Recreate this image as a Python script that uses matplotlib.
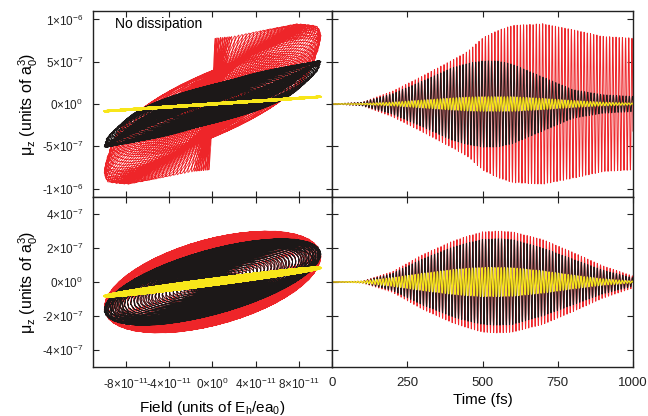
import numpy as np
import matplotlib.pyplot as plt

plt.rcParams['font.family'] = ['Liberation Sans', 'DejaVu Sans']
plt.rcParams['mathtext.fontset'] = 'custom'
plt.rcParams['mathtext.rm'] = 'Liberation Sans'
plt.rcParams['mathtext.it'] = 'Liberation Sans:italic'
plt.rcParams['mathtext.default'] = 'rm'

# envelope control points (time in fs)
t_ctrl = [0, 100, 200, 300, 400, 450, 500, 550, 600, 700, 800, 900, 1000]
field_env = [0, 0.06, 0.25, 0.55, 0.82, 0.92, 0.98, 1.0, 0.98, 0.80, 0.50, 0.18, 0.02]   # x 1e-10

# no dissipation (top row), amplitudes in 1e-6, phase lag in degrees
red_amp_nd = [0, 0.02, 0.15, 0.33, 0.52, 0.62, 0.78, 0.87, 0.93, 0.95, 0.88, 0.80, 0.78]
red_phase_nd = [10, 15, 25, 35, 45, 40, 28, 22, 18, 12, 10, 8, 8]
black_amp_nd = [0, 0.02, 0.12, 0.27, 0.43, 0.48, 0.51, 0.51, 0.47, 0.32, 0.17, 0.11, 0.09]
black_phase_nd = [30, 30, 30, 30, 30, 18, 5, 10, 25, 45, 55, 60, 65]
yellow_amp_nd = [0, 0.005, 0.02, 0.045, 0.07, 0.08, 0.085, 0.085, 0.085, 0.065, 0.04, 0.02, 0.01]
yellow_phase_nd = [3] * 13

# with dissipation (bottom row), amplitudes in 1e-7
red_amp_d = [0, 0.05, 0.6, 1.6, 2.4, 2.7, 2.95, 3.0, 2.95, 2.5, 1.75, 0.95, 0.35]
red_phase_d = [60] * 13
black_amp_d = [0, 0.04, 0.5, 1.35, 2.05, 2.3, 2.5, 2.55, 2.5, 2.0, 1.35, 0.7, 0.25]
black_phase_d = [50] * 13
yellow_amp_d = [0, 0.05, 0.25, 0.5, 0.72, 0.8, 0.85, 0.85, 0.83, 0.65, 0.4, 0.18, 0.05]
yellow_phase_d = [12] * 13

period_fs = 10.6

top_yticks = [-1e-6, -5e-7, 0, 5e-7, 1e-6]
top_ylabels = ['-1×10$^{-6}$', '-5×10$^{-7}$', '0×10$^{0}$', '5×10$^{-7}$', '1×10$^{-6}$']
bot_yticks = [-4e-7, -2e-7, 0, 2e-7, 4e-7]
bot_ylabels = ['-4×10$^{-7}$', '-2×10$^{-7}$', '0×10$^{0}$', '2×10$^{-7}$', '4×10$^{-7}$']
field_ticks = [-8e-11, -4e-11, 0, 4e-11, 8e-11]
field_labels = ['-8×10$^{-11}$', '-4×10$^{-11}$', '0×10$^{0}$', '4×10$^{-11}$', '8×10$^{-11}$']
time_ticks = [0, 250, 500, 750, 1000]

RED = '#ee2529'
BLACK = '#1c1818'
YELLOW = '#f8e61a'

t = np.arange(0, 1000.01, 0.4)
w = 2 * np.pi / period_fs
field = np.interp(t, t_ctrl, field_env) * 1e-10 * np.cos(w * t)


def dipole(amp, phase, scale):
    a = np.interp(t, t_ctrl, amp) * scale
    p = np.deg2rad(np.interp(t, t_ctrl, phase))
    return a * np.cos(w * t - p)


rows = [
    [(dipole(red_amp_nd, red_phase_nd, 1e-6), RED),
     (dipole(black_amp_nd, black_phase_nd, 1e-6), BLACK),
     (dipole(yellow_amp_nd, yellow_phase_nd, 1e-6), YELLOW)],
    [(dipole(red_amp_d, red_phase_d, 1e-7), RED),
     (dipole(black_amp_d, black_phase_d, 1e-7), BLACK),
     (dipole(yellow_amp_d, yellow_phase_d, 1e-7), YELLOW)],
]

fig = plt.figure(figsize=(6.48, 4.16), dpi=100)
W, H = 648.0, 416.0
ax_tl = fig.add_axes([93 / W, 1 - 197 / H, 239 / W, 186 / H])
ax_tr = fig.add_axes([332 / W, 1 - 197 / H, 301 / W, 186 / H])
ax_bl = fig.add_axes([93 / W, 1 - 367 / H, 239 / W, 170 / H])
ax_br = fig.add_axes([332 / W, 1 - 367 / H, 301 / W, 170 / H])

for (axl, axr), series in zip([(ax_tl, ax_tr), (ax_bl, ax_br)], rows):
    for mu, col in series:
        axl.plot(field, mu, color=col, lw=1.5 if col == YELLOW else 0.6)
        axr.plot(t, mu, color=col, lw=0.9 if col == YELLOW else 0.7)

for ax in (ax_tl, ax_tr):
    ax.set_ylim(-1.1e-6, 1.1e-6)
    ax.set_yticks(top_yticks)
for ax in (ax_bl, ax_br):
    ax.set_ylim(-5e-7, 5e-7)
    ax.set_yticks(bot_yticks)
for ax in (ax_tl, ax_bl):
    ax.set_xlim(-1.1e-10, 1.1e-10)
    ax.set_xticks(field_ticks)
for ax in (ax_tr, ax_br):
    ax.set_xlim(0, 1000)
    ax.set_xticks(time_ticks)

ax_tl.set_yticklabels(top_ylabels)
ax_bl.set_yticklabels(bot_ylabels)
ax_bl.set_xticklabels(field_labels)
ax_br.set_xticklabels([str(v) for v in time_ticks])
ax_tl.set_xticklabels([])
ax_tr.set_xticklabels([])
ax_tr.set_yticklabels([])
ax_br.set_yticklabels([])

for ax in (ax_tl, ax_tr, ax_bl, ax_br):
    ax.tick_params(direction='in', top=True, right=True, length=4, width=0.8,
                   labelsize=8.5, colors='#222222', pad=7)
    for s in ax.spines.values():
        s.set_linewidth(1.0)
        s.set_color('#222222')
ax_br.tick_params(axis='x', labelsize=9.5)

ax_tl.set_ylabel('μ$_z$ (units of a$_0^3$)', fontsize=11.5, labelpad=1)
ax_bl.set_ylabel('μ$_z$ (units of a$_0^3$)', fontsize=11.5, labelpad=1)
ax_bl.set_xlabel('Field (units of E$_h$/ea$_0$)', fontsize=11, labelpad=5)
ax_br.set_xlabel('Time (fs)', fontsize=11, labelpad=3)

ax_tl.text(0.09, 0.93, 'No dissipation', transform=ax_tl.transAxes,
           fontsize=10, va='center', ha='left')

fig.savefig('out.png', dpi=100)
